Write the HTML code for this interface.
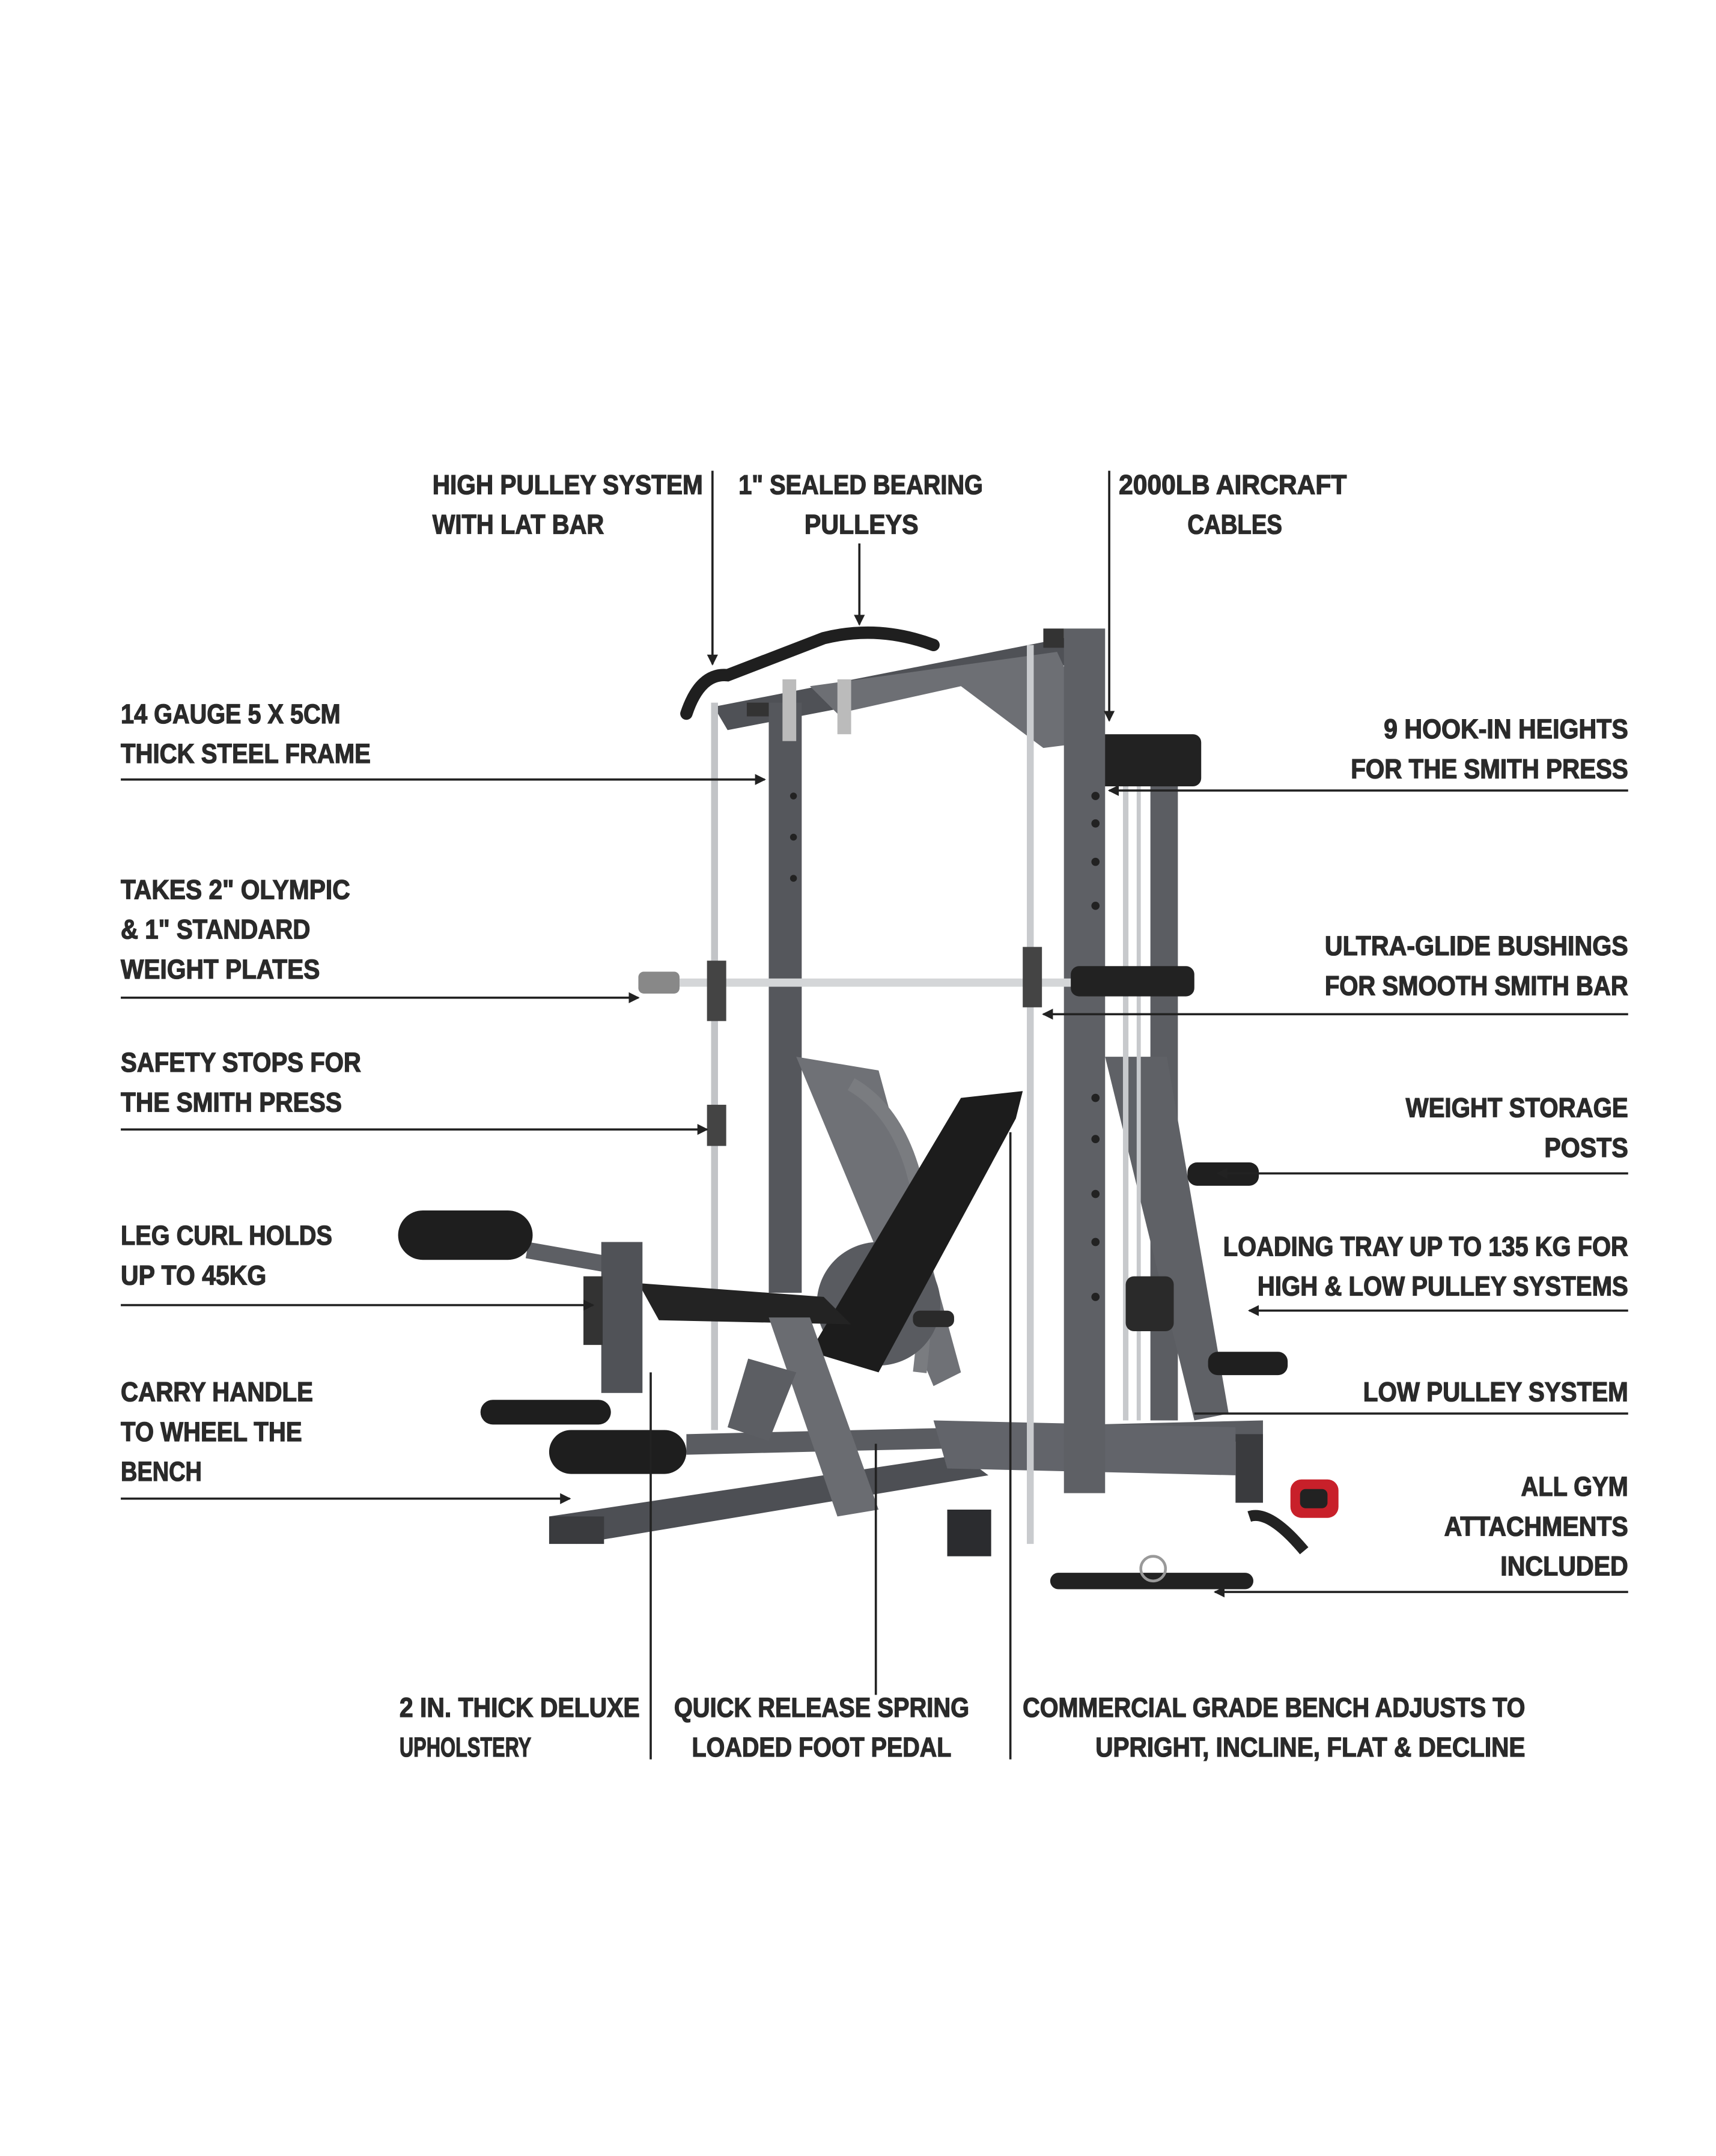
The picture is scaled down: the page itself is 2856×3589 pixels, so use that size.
<!DOCTYPE html>
<html><head><meta charset="utf-8"><style>
html,body{margin:0;padding:0;background:#fff;}
svg{display:block;}
text{font-family:"Liberation Sans Narrow","Liberation Sans",sans-serif;font-weight:bold;font-size:20px;fill:#2a2a2a;stroke:#2a2a2a;stroke-width:0.6;}
</style></head><body>
<svg width="2856" height="3589" viewBox="0 0 1250 1571" preserveAspectRatio="none" xmlns="http://www.w3.org/2000/svg">
<defs>
<marker id="a" markerWidth="8" markerHeight="8" refX="7" refY="4" orient="auto" markerUnits="userSpaceOnUse"><path d="M0,0 L8,4 L0,8 z" fill="#222"/></marker>
</defs>
<rect width="1250" height="1571" fill="#fff"/>

<g>
<polygon points="400,1105 700,1060 720,1075 420,1125" fill="#4d4f54"/>
<polygon points="500,1045 920,1035 920,1050 500,1060" fill="#5a5c61"/>
<rect x="690" y="1100" width="32" height="34" fill="#2b2c2f"/>
<rect x="400" y="1105" width="40" height="20" fill="#3a3b3e"/>
<rect x="900" y="1045" width="20" height="50" fill="#3a3b3e"/>
<polygon points="680,1035 900,1040 900,1075 690,1070" fill="#62646a"/>
<rect x="838" y="545" width="20" height="490" fill="#5b5d62"/>
<polygon points="805,770 850,770 895,1030 870,1035" fill="#5f6166"/>
<rect x="818" y="565" width="4" height="470" fill="#c7c9cc"/>
<rect x="828" y="565" width="3" height="470" fill="#c7c9cc"/>
<polygon points="520,515 790,462 800,480 530,532" fill="#4f5156"/>
<polygon points="590,500 770,475 800,540 760,545 700,500 610,520" fill="#6d6f74"/>
<rect x="795" y="535" width="80" height="38" rx="6" fill="#222"/>
<rect x="560" y="512" width="24" height="430" fill="#55575c"/>
<rect x="544" y="512" width="16" height="10" fill="#333"/>
<rect x="775" y="458" width="30" height="630" fill="#5e6065"/>
<rect x="760" y="458" width="15" height="14" fill="#333"/>
<g fill="#222">
<circle cx="798" cy="580" r="3"/><circle cx="798" cy="600" r="3"/><circle cx="798" cy="628" r="3"/>
<circle cx="798" cy="660" r="3"/><circle cx="798" cy="800" r="3"/><circle cx="798" cy="830" r="3"/>
<circle cx="798" cy="870" r="3"/><circle cx="798" cy="905" r="3"/><circle cx="798" cy="945" r="3"/>
<circle cx="578" cy="580" r="2.5"/><circle cx="578" cy="610" r="2.5"/><circle cx="578" cy="640" r="2.5"/>
</g>
<rect x="518" y="512" width="5" height="530" fill="#c2c4c7"/>
<rect x="748" y="470" width="5" height="655" fill="#c9cbce"/>
<path d="M500,520 Q510,490 530,492 L600,465 Q640,455 680,470" stroke="#1f1f1f" stroke-width="9" fill="none" stroke-linecap="round"/>
<rect x="570" y="495" width="10" height="45" fill="#bbb"/>
<rect x="610" y="495" width="10" height="40" fill="#bbb"/>
<rect x="480" y="713" width="390" height="6" fill="#d4d6d8"/>
<rect x="465" y="708" width="30" height="16" rx="4" fill="#888"/>
<rect x="780" y="704" width="90" height="22" rx="6" fill="#222"/>
<rect x="515" y="700" width="14" height="44" fill="#444"/>
<rect x="745" y="690" width="14" height="44" fill="#444"/>
<rect x="515" y="805" width="14" height="30" fill="#444"/>
<polygon points="580,770 640,780 700,1000 680,1010" fill="#6f7176"/>
<path d="M620,790 Q690,830 670,1000" stroke="#7a7c80" stroke-width="10" fill="none"/>
<circle cx="640" cy="950" r="45" fill="#595b60"/>
<rect x="865" y="847" width="52" height="17" rx="7" fill="#1f1f1f"/>
<rect x="880" y="985" width="58" height="17" rx="7" fill="#1f1f1f"/>
<rect x="820" y="930" width="35" height="40" rx="6" fill="#2a2a2a"/>
<rect x="665" y="955" width="30" height="12" rx="5" fill="#2a2a2a"/>
<polygon points="590,985 700,800 745,795 740,815 640,1000" fill="#1c1c1c"/>
<polygon points="465,935 600,945 620,965 480,962" fill="#232323"/>
<polygon points="560,960 590,960 640,1100 610,1105" fill="#6a6c71"/>
<polygon points="545,990 580,1000 560,1050 530,1040" fill="#5c5e63"/>
<rect x="385" y="905" width="80" height="12" fill="#5d5f64" transform="rotate(10 385 905)"/>
<rect x="290" y="882" width="98" height="36" rx="18" fill="#1e1e1e"/>
<rect x="438" y="905" width="30" height="110" fill="#505257"/>
<rect x="425" y="930" width="14" height="50" fill="#333"/>
<rect x="350" y="1020" width="95" height="18" rx="9" fill="#1e1e1e"/>
<rect x="400" y="1042" width="100" height="32" rx="16" fill="#1e1e1e"/>
<rect x="765" y="1146" width="148" height="12" rx="6" fill="#222"/>
<circle cx="840" cy="1143" r="9" fill="none" stroke="#999" stroke-width="2"/>
<path d="M910,1105 Q925,1100 950,1130" stroke="#222" stroke-width="8" fill="none"/>
<rect x="940" y="1078" width="35" height="28" rx="8" fill="#c8202a"/>
<rect x="947" y="1085" width="20" height="14" rx="4" fill="#222"/>
</g>

<g stroke="#222" stroke-width="1.6" fill="none">
<line x1="519" y1="343" x2="519" y2="484" marker-end="url(#a)"/>
<line x1="626" y1="396" x2="626" y2="455" marker-end="url(#a)"/>
<line x1="808" y1="343" x2="808" y2="525" marker-end="url(#a)"/>
<line x1="88" y1="568" x2="557" y2="568" marker-end="url(#a)"/>
<line x1="1186" y1="576" x2="808" y2="576" marker-end="url(#a)"/>
<line x1="88" y1="727" x2="465" y2="727" marker-end="url(#a)"/>
<line x1="1186" y1="739" x2="760" y2="739" marker-end="url(#a)"/>
<line x1="88" y1="823" x2="515" y2="823" marker-end="url(#a)"/>
<line x1="1186" y1="855" x2="887" y2="855" marker-end="url(#a)"/>
<line x1="88" y1="951" x2="432" y2="951" marker-end="url(#a)"/>
<line x1="1186" y1="955" x2="910" y2="955" marker-end="url(#a)"/>
<line x1="1186" y1="1030" x2="870" y2="1030"/>
<line x1="88" y1="1092" x2="415" y2="1092" marker-end="url(#a)"/>
<line x1="1186" y1="1160" x2="885" y2="1160" marker-end="url(#a)"/>
<line x1="474" y1="1282" x2="474" y2="1000"/>
<line x1="638" y1="1235" x2="638" y2="1052"/>
<line x1="736" y1="1282" x2="736" y2="825"/>
</g>

<g>
<text x="315" y="360" textLength="197" lengthAdjust="spacingAndGlyphs">HIGH PULLEY SYSTEM</text>
<text x="315" y="389" textLength="125" lengthAdjust="spacingAndGlyphs">WITH LAT BAR</text>
<text x="538" y="360" textLength="178" lengthAdjust="spacingAndGlyphs">1" SEALED BEARING</text>
<text x="586" y="389" textLength="83" lengthAdjust="spacingAndGlyphs">PULLEYS</text>
<text x="815" y="360" textLength="166" lengthAdjust="spacingAndGlyphs">2000LB AIRCRAFT</text>
<text x="865" y="389" textLength="69" lengthAdjust="spacingAndGlyphs">CABLES</text>
<text x="88" y="527" textLength="160" lengthAdjust="spacingAndGlyphs">14 GAUGE 5 X 5CM</text>
<text x="88" y="556" textLength="182" lengthAdjust="spacingAndGlyphs">THICK STEEL FRAME</text>
<text x="1008" y="538" textLength="178" lengthAdjust="spacingAndGlyphs">9 HOOK-IN HEIGHTS</text>
<text x="984" y="567" textLength="202" lengthAdjust="spacingAndGlyphs">FOR THE SMITH PRESS</text>
<text x="88" y="655" textLength="167" lengthAdjust="spacingAndGlyphs">TAKES 2" OLYMPIC</text>
<text x="88" y="684" textLength="138" lengthAdjust="spacingAndGlyphs">&amp; 1" STANDARD</text>
<text x="88" y="713" textLength="145" lengthAdjust="spacingAndGlyphs">WEIGHT PLATES</text>
<text x="965" y="696" textLength="221" lengthAdjust="spacingAndGlyphs">ULTRA-GLIDE BUSHINGS</text>
<text x="965" y="725" textLength="221" lengthAdjust="spacingAndGlyphs">FOR SMOOTH SMITH BAR</text>
<text x="88" y="781" textLength="175" lengthAdjust="spacingAndGlyphs">SAFETY STOPS FOR</text>
<text x="88" y="810" textLength="161" lengthAdjust="spacingAndGlyphs">THE SMITH PRESS</text>
<text x="1024" y="814" textLength="162" lengthAdjust="spacingAndGlyphs">WEIGHT STORAGE</text>
<text x="1125" y="843" textLength="61" lengthAdjust="spacingAndGlyphs">POSTS</text>
<text x="88" y="907" textLength="154" lengthAdjust="spacingAndGlyphs">LEG CURL HOLDS</text>
<text x="88" y="936" textLength="106" lengthAdjust="spacingAndGlyphs">UP TO 45KG</text>
<text x="891" y="915" textLength="295" lengthAdjust="spacingAndGlyphs">LOADING TRAY UP TO 135 KG FOR</text>
<text x="916" y="944" textLength="270" lengthAdjust="spacingAndGlyphs">HIGH &amp; LOW PULLEY SYSTEMS</text>
<text x="993" y="1021" textLength="193" lengthAdjust="spacingAndGlyphs">LOW PULLEY SYSTEM</text>
<text x="88" y="1021" textLength="140" lengthAdjust="spacingAndGlyphs">CARRY HANDLE</text>
<text x="88" y="1050" textLength="132" lengthAdjust="spacingAndGlyphs">TO WHEEL THE</text>
<text x="88" y="1079" textLength="59" lengthAdjust="spacingAndGlyphs">BENCH</text>
<text x="1108" y="1090" textLength="78" lengthAdjust="spacingAndGlyphs">ALL GYM</text>
<text x="1052" y="1119" textLength="134" lengthAdjust="spacingAndGlyphs">ATTACHMENTS</text>
<text x="1093" y="1148" textLength="93" lengthAdjust="spacingAndGlyphs">INCLUDED</text>
<text x="291" y="1251" textLength="175" lengthAdjust="spacingAndGlyphs">2 IN. THICK DELUXE</text>
<text x="291" y="1280" textLength="96" lengthAdjust="spacingAndGlyphs">UPHOLSTERY</text>
<text x="491" y="1251" textLength="215" lengthAdjust="spacingAndGlyphs">QUICK RELEASE SPRING</text>
<text x="504" y="1280" textLength="189" lengthAdjust="spacingAndGlyphs">LOADED FOOT PEDAL</text>
<text x="745" y="1251" textLength="366" lengthAdjust="spacingAndGlyphs">COMMERCIAL GRADE BENCH ADJUSTS TO</text>
<text x="798" y="1280" textLength="313" lengthAdjust="spacingAndGlyphs">UPRIGHT, INCLINE, FLAT &amp; DECLINE</text>
</g>
</svg>
</body></html>
